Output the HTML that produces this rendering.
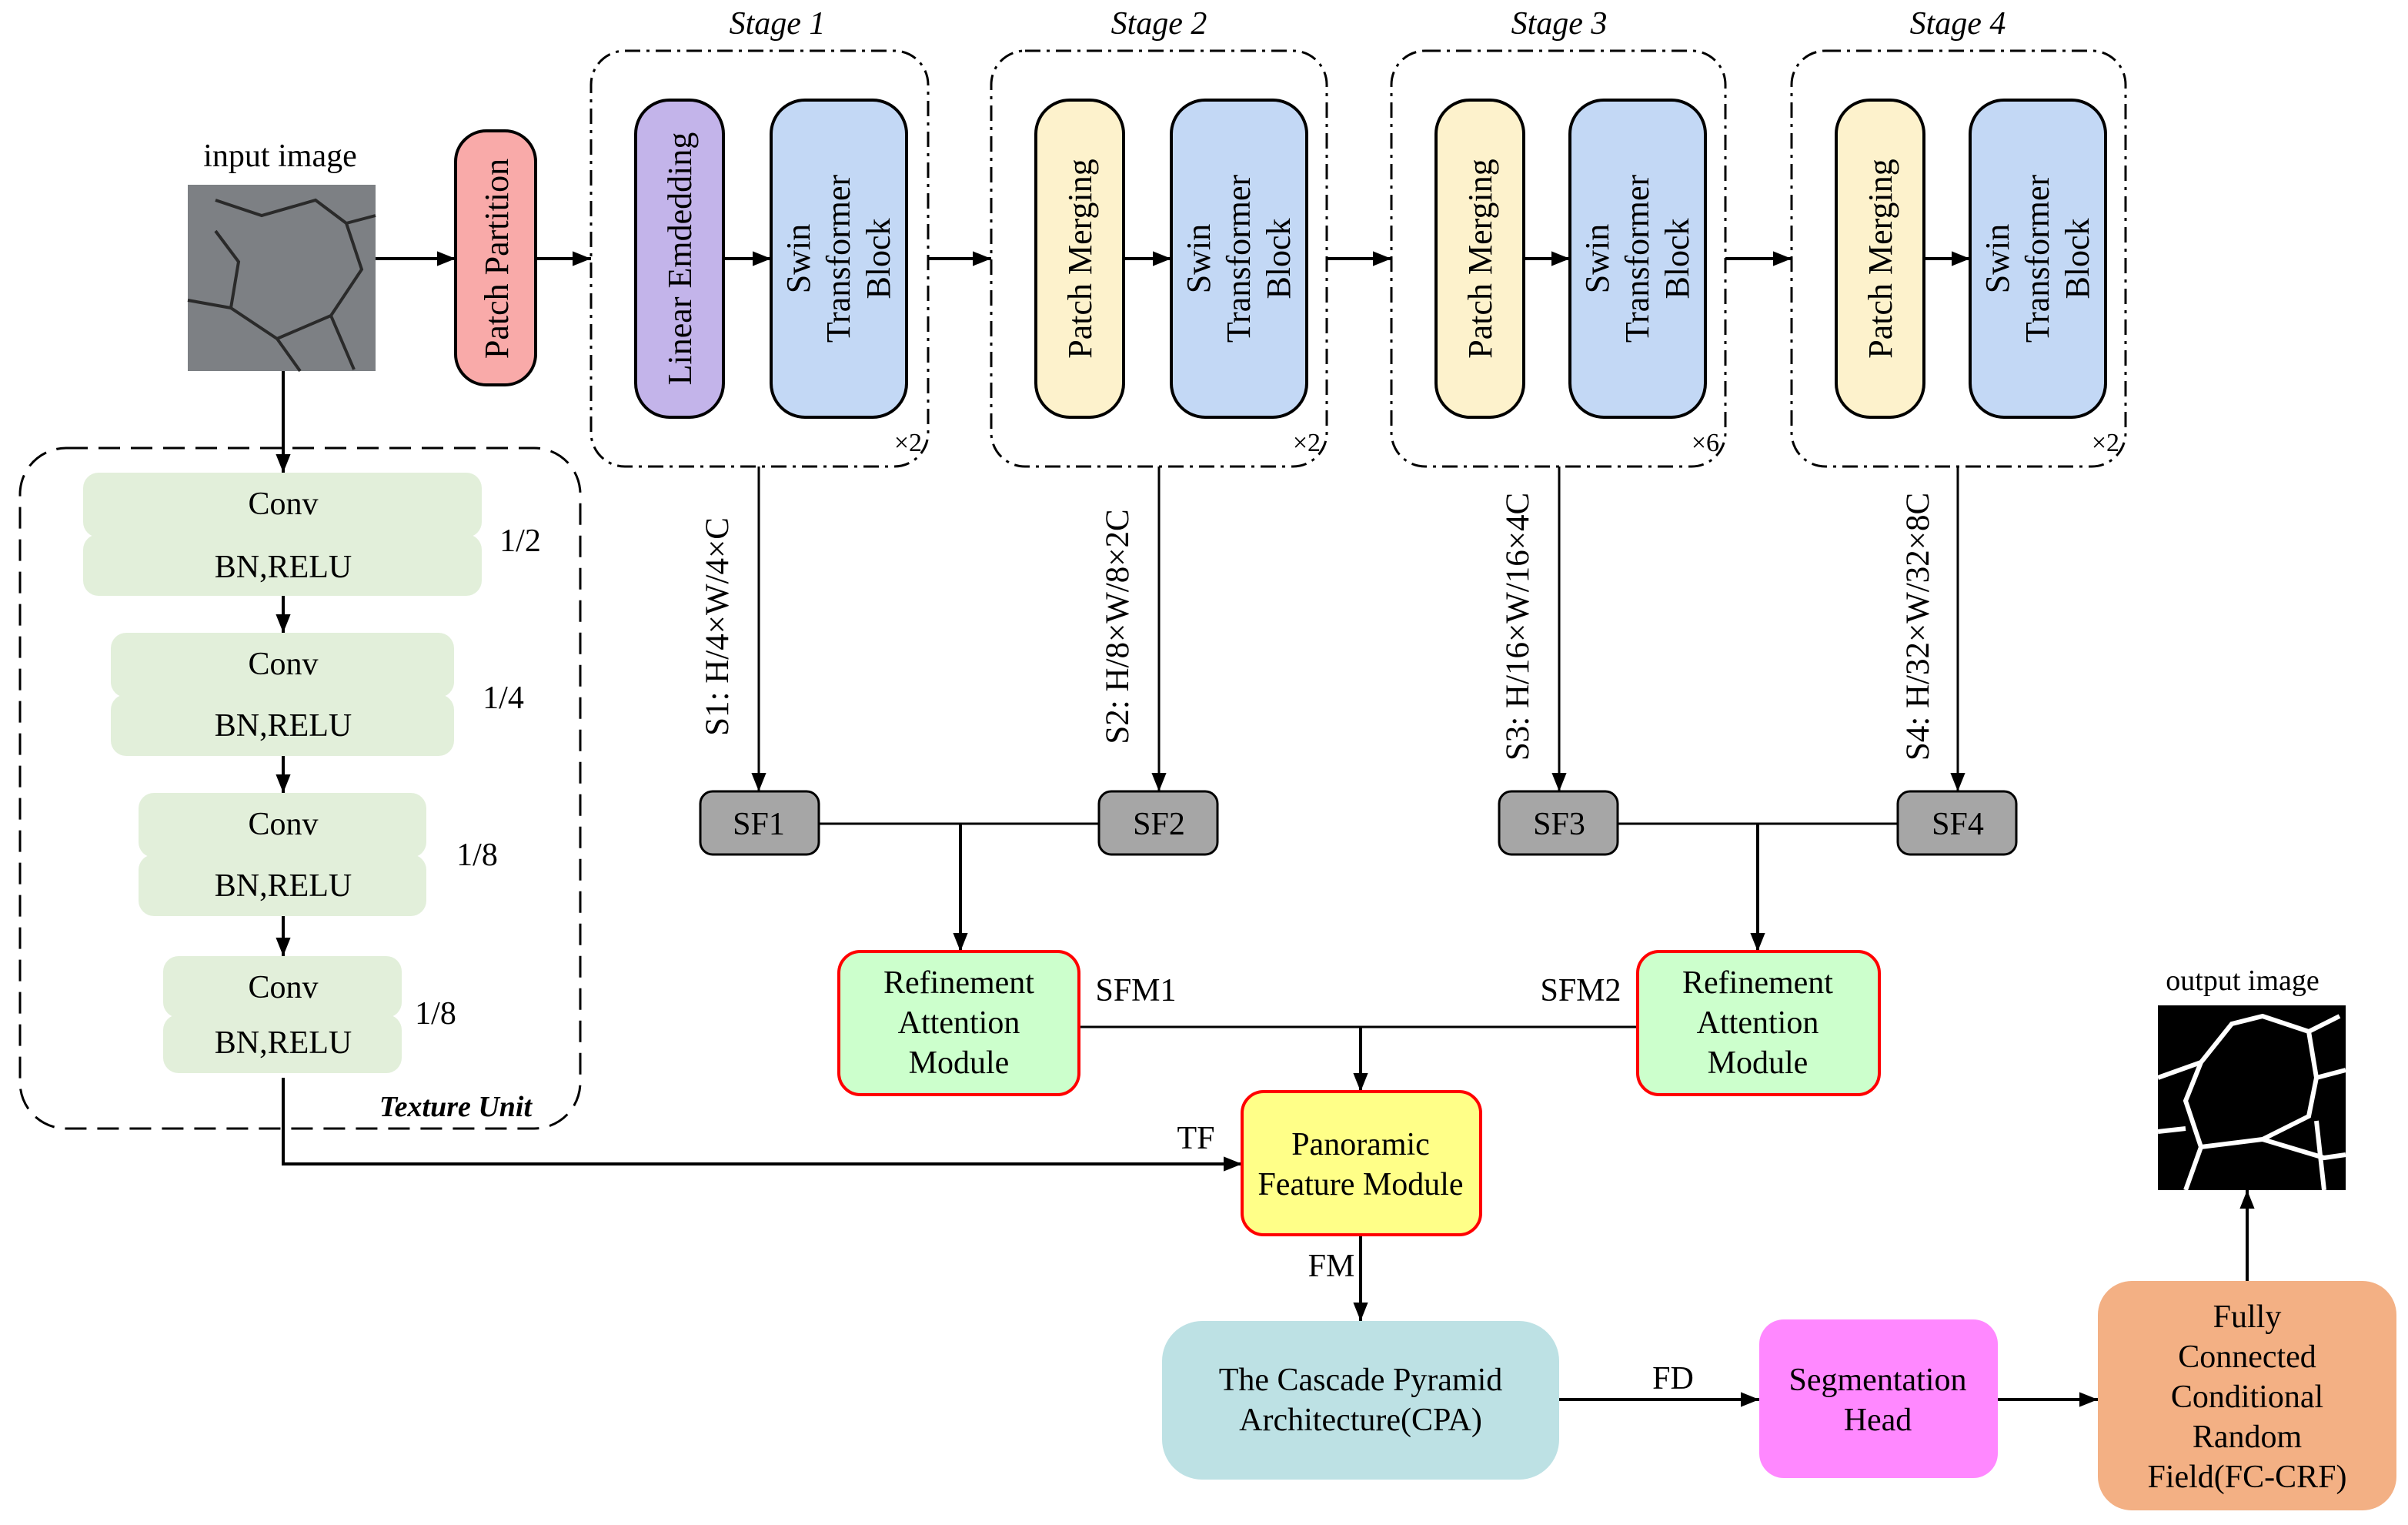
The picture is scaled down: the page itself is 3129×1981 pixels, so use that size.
<!DOCTYPE html>
<html><head><meta charset="utf-8"><style>html,body{margin:0;padding:0;background:#fff}svg{display:block}</style></head><body>
<svg width="3129" height="1981" viewBox="0 0 1564.5 990.5" xmlns="http://www.w3.org/2000/svg" font-family="'Liberation Serif', serif" font-size="21">
<defs>
<marker id="b" viewBox="0 0 10 10" refX="10" refY="5" markerWidth="12" markerHeight="12" markerUnits="userSpaceOnUse" orient="auto"><path d="M0,1L10,5L0,9z" fill="#000"/></marker>
</defs>
<g stroke="#000" stroke-width="2" fill="none" marker-end="url(#b)">
<line x1="244" y1="168" x2="296" y2="168"/>
<line x1="348" y1="168" x2="384" y2="168"/>
<line x1="470" y1="168" x2="501" y2="168"/>
<line x1="603" y1="168" x2="644" y2="168"/>
<line x1="730" y1="168" x2="761" y2="168"/>
<line x1="862" y1="168" x2="904" y2="168"/>
<line x1="990" y1="168" x2="1020" y2="168"/>
<line x1="1121" y1="168" x2="1164" y2="168"/>
<line x1="1250" y1="168" x2="1280" y2="168"/>
<line x1="184" y1="241" x2="184" y2="307"/>
<line x1="184" y1="387" x2="184" y2="411"/>
<line x1="184" y1="491" x2="184" y2="515"/>
<line x1="184" y1="595" x2="184" y2="621"/>
<polyline points="184,700 184,756 807,756"/>
<line x1="884" y1="802" x2="884" y2="858"/>
<line x1="1013" y1="909" x2="1143" y2="909"/>
<line x1="1298" y1="909" x2="1363" y2="909"/>
<line x1="1460" y1="832" x2="1460" y2="773"/>
<line x1="624" y1="535" x2="624" y2="618"/>
<line x1="1142" y1="535" x2="1142" y2="618"/>
<line x1="884" y1="667" x2="884" y2="709"/>
</g>
<g stroke="#000" stroke-width="1.5" fill="none" marker-end="url(#b)">
<line x1="493" y1="303" x2="493" y2="514"/>
<line x1="753" y1="303" x2="753" y2="514"/>
<line x1="1013" y1="303" x2="1013" y2="514"/>
<line x1="1272" y1="303" x2="1272" y2="514"/>
</g>
<g stroke="#000" stroke-width="1.5"><line x1="532" y1="535" x2="714" y2="535"/><line x1="1051" y1="535" x2="1233" y2="535"/><line x1="701" y1="667" x2="1064" y2="667"/></g>
<text x="182" y="108" text-anchor="middle">input image</text>
<rect x="122" y="120" width="122" height="121" fill="#7d8084"/>
<g stroke="#2a2a2a" stroke-width="2" fill="none"><path d="M140,130 L170,140 L205,130 L225,145 L235,175 L215,205 L180,220 L150,200 L155,170 L140,150"/><path d="M122,195 L150,200 M180,220 L195,241 M215,205 L230,240 M225,145 L244,140"/></g>
<rect x="296" y="85" width="52" height="165" rx="20" fill="#f9aaa9" stroke="#000" stroke-width="2"/>
<text transform="translate(330,168) rotate(-90)" text-anchor="middle" font-size="22">Patch Partition</text>
<g fill="none" stroke="#000" stroke-width="1.5" stroke-dasharray="10,4,2,4">
<rect x="384" y="33" width="219" height="270" rx="22"/>
<rect x="644" y="33" width="218" height="270" rx="22"/>
<rect x="904" y="33" width="217" height="270" rx="22"/>
<rect x="1164" y="33" width="217" height="270" rx="22"/>
</g>
<g font-style="italic" text-anchor="middle"><text x="505" y="22">Stage 1</text><text x="753" y="22">Stage 2</text><text x="1013" y="22">Stage 3</text><text x="1272" y="22">Stage 4</text></g>
<g stroke="#000" stroke-width="2">
<rect x="413" y="65" width="57" height="206" rx="22" fill="#c3b4ea"/>
<rect x="673" y="65" width="57" height="206" rx="22" fill="#fdf2cc"/>
<rect x="933" y="65" width="57" height="206" rx="22" fill="#fdf2cc"/>
<rect x="1193" y="65" width="57" height="206" rx="22" fill="#fdf2cc"/>
<rect x="501" y="65" width="88" height="206" rx="22" fill="#c3d8f5"/>
<rect x="761" y="65" width="88" height="206" rx="22" fill="#c3d8f5"/>
<rect x="1020" y="65" width="88" height="206" rx="22" fill="#c3d8f5"/>
<rect x="1280" y="65" width="88" height="206" rx="22" fill="#c3d8f5"/>
</g>
<g font-size="22" text-anchor="middle">
<text transform="translate(449,168) rotate(-90)">Linear Emdedding</text>
<text transform="translate(709,168) rotate(-90)">Patch Merging</text>
<text transform="translate(969,168) rotate(-90)">Patch Merging</text>
<text transform="translate(1229,168) rotate(-90)">Patch Merging</text>
<text transform="translate(526,168) rotate(-90)"><tspan x="0" y="0">Swin</tspan><tspan x="0" y="26">Transformer</tspan><tspan x="0" y="52">Block</tspan></text>
<text transform="translate(786,168) rotate(-90)"><tspan x="0" y="0">Swin</tspan><tspan x="0" y="26">Transformer</tspan><tspan x="0" y="52">Block</tspan></text>
<text transform="translate(1045,168) rotate(-90)"><tspan x="0" y="0">Swin</tspan><tspan x="0" y="26">Transformer</tspan><tspan x="0" y="52">Block</tspan></text>
<text transform="translate(1305,168) rotate(-90)"><tspan x="0" y="0">Swin</tspan><tspan x="0" y="26">Transformer</tspan><tspan x="0" y="52">Block</tspan></text>
</g>
<g font-size="17" text-anchor="end"><text x="599" y="293">×2</text><text x="858" y="293">×2</text><text x="1117" y="293">×6</text><text x="1377" y="293">×2</text></g>
<g font-size="21.5" text-anchor="middle">
<text transform="translate(473,407) rotate(-90)">S1: H/4×W/4×C</text>
<text transform="translate(733,407) rotate(-90)">S2: H/8×W/8×2C</text>
<text transform="translate(993,407) rotate(-90)">S3: H/16×W/16×4C</text>
<text transform="translate(1253,407) rotate(-90)">S4: H/32×W/32×8C</text>
</g>
<g fill="#a6a6a6" stroke="#000" stroke-width="1.5">
<rect x="455" y="514" width="77" height="41" rx="8"/><rect x="714" y="514" width="77" height="41" rx="8"/>
<rect x="974" y="514" width="77" height="41" rx="8"/><rect x="1233" y="514" width="77" height="41" rx="8"/>
</g>
<g text-anchor="middle"><text x="493" y="542">SF1</text><text x="753" y="542">SF2</text><text x="1013" y="542">SF3</text><text x="1272" y="542">SF4</text></g>
<g fill="#ccffcc" stroke="#f00" stroke-width="2"><rect x="545" y="618" width="156" height="93" rx="14"/><rect x="1064" y="618" width="157" height="93" rx="14"/></g>
<g text-anchor="middle">
<text x="623" y="645">Refinement</text><text x="623" y="671">Attention</text><text x="623" y="697">Module</text>
<text x="1142" y="645">Refinement</text><text x="1142" y="671">Attention</text><text x="1142" y="697">Module</text>
<text x="738" y="650">SFM1</text><text x="1027" y="650">SFM2</text>
<text x="777" y="746">TF</text><text x="865" y="829">FM</text><text x="1087" y="902">FD</text>
</g>
<rect x="807" y="709" width="155" height="93" rx="14" fill="#ffff88" stroke="#f00" stroke-width="2"/>
<text x="884" y="750" text-anchor="middle">Panoramic</text><text x="884" y="776" text-anchor="middle">Feature Module</text>
<rect x="755" y="858" width="258" height="103" rx="26" fill="#bde1e4"/>
<text x="884" y="903" text-anchor="middle">The Cascade Pyramid</text><text x="884" y="929" text-anchor="middle">Architecture(CPA)</text>
<rect x="1143" y="857" width="155" height="103" rx="16" fill="#ff88ff"/>
<text x="1220" y="903" text-anchor="middle">Segmentation</text><text x="1220" y="929" text-anchor="middle">Head</text>
<rect x="1363" y="832" width="194" height="149" rx="22" fill="#f3b084"/>
<g text-anchor="middle"><text x="1460" y="862">Fully</text><text x="1460" y="888">Connected</text><text x="1460" y="914">Conditional</text><text x="1460" y="940">Random</text><text x="1460" y="966">Field(FC-CRF)</text></g>
<text x="1457" y="643" text-anchor="middle" font-size="19">output image</text>
<rect x="1402" y="653" width="122" height="120" fill="#000"/>
<g stroke="#fff" stroke-width="3" fill="none"><path d="M1402,700 L1430,690 L1450,665 L1470,660 L1500,670 L1520,660 M1430,690 L1420,715 L1430,745 L1470,740 L1500,725 L1505,700 L1500,670 M1402,735 L1420,733 M1430,745 L1420,773 M1470,740 L1510,752 L1524,750 M1505,728 L1510,773 M1505,700 L1524,695"/></g>
<rect x="13" y="291" width="364" height="442" rx="30" fill="none" stroke="#000" stroke-width="1.5" stroke-dasharray="14,7"/>
<text x="296" y="725" font-weight="bold" font-style="italic" font-size="19" text-anchor="middle">Texture Unit</text>
<g fill="#e2efda">
<rect x="54" y="307" width="259" height="42" rx="10"/><rect x="54" y="347" width="259" height="40" rx="10"/>
<rect x="72" y="411" width="223" height="42" rx="10"/><rect x="72" y="451" width="223" height="40" rx="10"/>
<rect x="90" y="515" width="187" height="42" rx="10"/><rect x="90" y="555" width="187" height="40" rx="10"/>
<rect x="106" y="621" width="155" height="40" rx="10"/><rect x="106" y="659" width="155" height="38" rx="10"/>
</g>
<g text-anchor="middle">
<text x="184" y="334">Conv</text><text x="184" y="375">BN,RELU</text>
<text x="184" y="438">Conv</text><text x="184" y="478">BN,RELU</text>
<text x="184" y="542">Conv</text><text x="184" y="582">BN,RELU</text>
<text x="184" y="648">Conv</text><text x="184" y="684">BN,RELU</text>
<text x="338" y="358">1/2</text><text x="327" y="460">1/4</text><text x="310" y="562">1/8</text><text x="283" y="665">1/8</text>
</g>
</svg>
</body></html>
